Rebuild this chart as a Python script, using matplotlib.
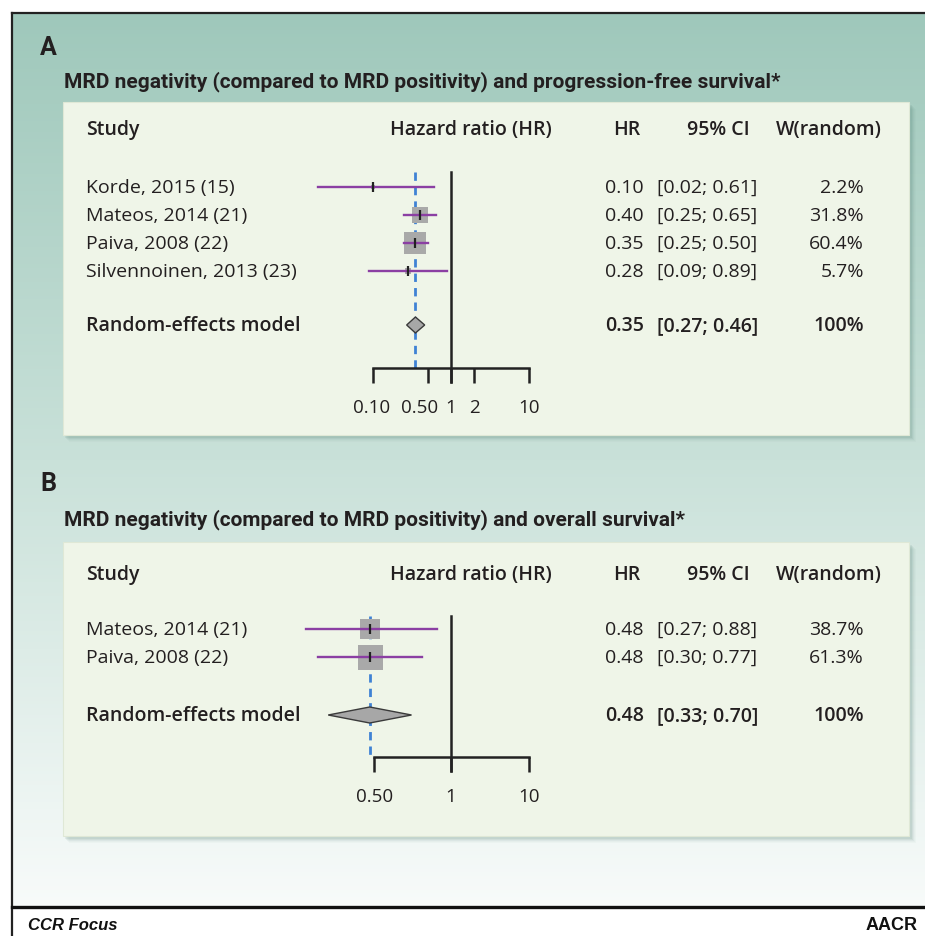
import numpy as np
import matplotlib
matplotlib.use("Agg")
import matplotlib.pyplot as plt
import matplotlib.transforms as mtransforms
from matplotlib import font_manager
from matplotlib.patches import Rectangle, Polygon
from matplotlib.colors import LinearSegmentedColormap

# ---- data, panel A (progression-free survival) ----
studies_a = ["Korde, 2015 (15)", "Mateos, 2014 (21)", "Paiva, 2008 (22)", "Silvennoinen, 2013 (23)"]
hr_a = [0.10, 0.40, 0.35, 0.28]
lo_a = [0.02, 0.25, 0.25, 0.09]
hi_a = [0.61, 0.65, 0.50, 0.89]
w_a = [2.2, 31.8, 60.4, 5.7]
pool_a = (0.35, 0.27, 0.46)
ticks_a = [0.10, 0.50, 1, 2, 10]
ticklabels_a = ["0.10", "0.50", "1", "2", "10"]

# ---- data, panel B (overall survival) ----
studies_b = ["Mateos, 2014 (21)", "Paiva, 2008 (22)"]
hr_b = [0.48, 0.48]
lo_b = [0.27, 0.30]
hi_b = [0.88, 0.77]
w_b = [38.7, 61.3]
pool_b = (0.48, 0.33, 0.70)
ticks_b = [0.50, 1, 10]
ticklabels_b = ["0.50", "1", "10"]

title_a = "MRD negativity (compared to MRD positivity) and progression-free survival*"
title_b = "MRD negativity (compared to MRD positivity) and overall survival*"

W, H = 925, 937
TXT = "#231f20"
PURPLE = "#8b3fa3"
BLUE = "#3f82d4"
SQ = "#a9a9a9"
BOX = "#eff5e8"

names = {f.name for f in font_manager.fontManager.ttflist}
BODY = "Open Sans" if "Open Sans" in names else "DejaVu Sans"
HEAD = "Roboto" if "Roboto" in names else "DejaVu Sans"

fig = plt.figure(figsize=(W / 100, H / 100), dpi=100)
bg = fig.add_axes([0, 0, 1, 1])
bg.set_xlim(0, W)
bg.set_ylim(H, 0)
bg.axis("off")

# gradient background inside the frame
cmap = LinearSegmentedColormap.from_list("bgc", [(0, "#9fc8bb"), (0.5, "#c9e1d9"), (1, "#f8fbfa")])
grad = np.linspace(0, 1, 256).reshape(-1, 1)
bg.imshow(grad, cmap=cmap, extent=[12, W, 908, 14], aspect="auto", zorder=0)

# frame lines
bg.plot([12, W], [14, 14], color="#222222", lw=1.6, zorder=5)
bg.plot([12, 12], [14, H], color="#222222", lw=1.6, zorder=5)
bg.plot([12, W], [908, 908], color="#111111", lw=2.4, zorder=5)


def panel_box(y0, y1):
    # soft shadow
    for k, a in enumerate([0.10, 0.08, 0.06, 0.04, 0.03]):
        bg.add_patch(Rectangle((63 + 2 + k, y0 + 3 + k), 847, y1 - y0, color="#4f7c72",
                               alpha=a, lw=0, zorder=1))
    bg.add_patch(Rectangle((63, y0), 846, y1 - y0, facecolor=BOX, edgecolor="#dfe8d6",
                           lw=0.8, zorder=2))


panel_box(103, 436)
panel_box(543, 837)

bg.text(40, 48, "A", fontsize=18, fontweight="bold", family=HEAD, color=TXT, va="center", zorder=6)
bg.text(40, 484, "B", fontsize=18, fontweight="bold", family=HEAD, color=TXT, va="center", zorder=6)
bg.text(64, 82, title_a, fontsize=15, fontweight="bold", family=HEAD, color=TXT, va="center", zorder=6)
bg.text(64, 520, title_b, fontsize=15, fontweight="bold", family=HEAD, color=TXT, va="center", zorder=6)

bg.text(28, 926, "CCR Focus", fontsize=12, fontweight="bold", fontstyle="italic",
        family="Liberation Sans", color="#111111", va="center", zorder=6)
bg.text(918, 926, "AACR", fontsize=13, fontweight="bold", family="Liberation Sans",
        color="#111111", va="center", ha="right", zorder=6)

FS = 14


def table(y_head, rows_y, pool_y, studies, hr, lo, hi, w, pool):
    kw = dict(family=BODY, color=TXT, va="center", zorder=6, fontsize=FS)
    bg.text(86, y_head, "Study", fontweight="semibold", **kw)
    bg.text(471, y_head, "Hazard ratio (HR)", fontweight="semibold", ha="center", **kw)
    bg.text(627, y_head, "HR", fontweight="semibold", ha="center", **kw)
    bg.text(750, y_head, "95% CI", fontweight="semibold", ha="right", **kw)
    bg.text(882, y_head, "W(random)", fontweight="semibold", ha="right", **kw)
    for y, s, h, l, u, ww in zip(rows_y, studies, hr, lo, hi, w):
        bg.text(86, y, s, **kw)
        bg.text(605, y, f"{h:.2f}", **kw)
        bg.text(657, y, f"[{l:.2f}; {u:.2f}]", **kw)
        bg.text(864, y, f"{ww:.1f}%", ha="right", **kw)
    bg.text(86, pool_y, "Random-effects model", fontweight="semibold", **kw)
    bg.text(605, pool_y, f"{pool[0]:.2f}", fontweight="semibold", **kw)
    bg.text(657, pool_y, f"[{pool[1]:.2f}; {pool[2]:.2f}]", fontweight="semibold", **kw)
    bg.text(864, pool_y, "100%", fontweight="semibold", ha="right", **kw)


def forest(ax, k_left, rows_y, pool_y, y_top, y_axis, hr, lo, hi, w, pool, ticks, labels, sq_max,
           nudge=None):
    # piecewise log scale: k_left times wider per decade below 1
    def fwd(x):
        lx = np.log10(np.clip(x, 1e-9, None))
        return np.where(lx < 0, lx * k_left, lx)

    def inv(y):
        return np.where(y < 0, 10 ** (y / k_left), 10 ** y)

    ax.set_xscale("function", functions=(fwd, inv))
    ppd = 78.0  # pixels per decade above 1
    ax.set_xlim(inv((290 - 451) / ppd), inv((560 - 451) / ppd))
    ax.set_ylim(H, 0)
    ax.patch.set_alpha(0)
    for sp in ["top", "left", "right"]:
        ax.spines[sp].set_visible(False)
    ax.spines["bottom"].set_position(("data", y_axis))
    ax.spines["bottom"].set_bounds(ticks[0], ticks[-1])
    ax.spines["bottom"].set_linewidth(1.8)
    ax.spines["bottom"].set_color("#222222")
    ax.set_yticks([])
    ax.xaxis.set_minor_locator(matplotlib.ticker.NullLocator())
    ax.set_xticks(ticks)
    ax.set_xticklabels(labels, family=BODY, fontsize=13.5, color=TXT)
    ax.tick_params(axis="x", direction="out", length=10.5, width=1.8, color="#222222", pad=11)
    if nudge:
        for lab in ax.get_xticklabels():
            if lab.get_text() in nudge:
                dx = nudge[lab.get_text()]
                lab.set_transform(lab.get_transform() +
                                  mtransforms.ScaledTranslation(dx / 100, 0, fig.dpi_scale_trans))

    # null line and pooled estimate line
    ax.plot([1, 1], [y_top, y_axis + 14], color="#222222", lw=1.8, zorder=3)
    ax.plot([pool[0], pool[0]], [y_top, y_axis], color=BLUE, lw=2.0, ls=(0, (3, 2.2)), zorder=2)

    wmax = max(w)
    for y, h, l, u, ww in zip(rows_y, hr, lo, hi, w):
        side = sq_max * np.sqrt(ww / wmax) * 0.72
        ax.scatter([h], [y], marker="s", s=side ** 2, color=SQ, lw=0, zorder=3)
        ax.plot([l, u], [y, y], color=PURPLE, lw=1.7, zorder=4)
        ax.scatter([h], [y], marker="|", s=45, color="#222222", lw=1.6, zorder=5)

    est, pl, ph = pool
    ax.add_patch(Polygon([[pl, pool_y], [est, pool_y - 8], [ph, pool_y], [est, pool_y + 8]],
                         closed=True, facecolor="#a7a7a7", edgecolor="#3a3a3a", lw=1.0, zorder=4))


# panel A
rows_a = [188 + 28 * i for i in range(len(studies_a))]
table(130, rows_a, 326, studies_a, hr_a, lo_a, hi_a, w_a, pool_a)
axa = fig.add_axes([290 / W, 0, 270 / W, 1])
forest(axa, 1.0, rows_a, 326, 173, 369, hr_a, lo_a, hi_a, w_a, pool_a, ticks_a, ticklabels_a, 22,
       nudge={"0.50": -8, "0.10": -1})

# panel B
rows_b = [630 + 28 * i for i in range(len(studies_b))]
table(575, rows_b, 716, studies_b, hr_b, lo_b, hi_b, w_b, pool_b)
axb = fig.add_axes([290 / W, 0, 270 / W, 1])
forest(axb, 255 / 78, rows_b, 716, 617, 758, hr_b, lo_b, hi_b, w_b, pool_b, ticks_b, ticklabels_b, 25)

fig.savefig("out.png", dpi=100)
